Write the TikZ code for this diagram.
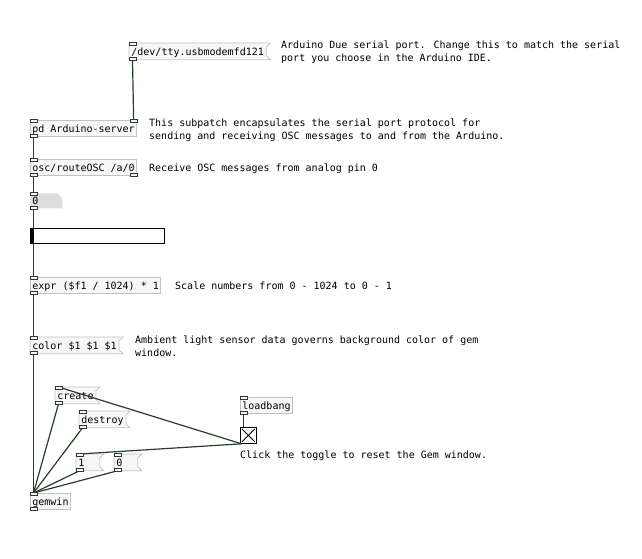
\documentclass[tikz,border=0pt]{standalone}
\usepackage{fontspec}
\usepackage{xcolor}
\usepackage{tikz}
\usetikzlibrary{calc}

\newfontfamily\pdmono{DejaVu Sans Mono}
\definecolor{boxfill}{HTML}{F7F7F7}
\definecolor{boxline}{HTML}{C2C2C2}
\definecolor{numfill}{HTML}{DDDDDD}
\definecolor{cordcol}{HTML}{263F26}

\tikzset{
  pdobj/.style={anchor=north west,fill=boxfill,draw=boxline,line width=0.8pt,
    inner xsep=2pt,inner ysep=0pt,minimum height=16pt,text height=9pt,text depth=1pt,
    font=\pdmono\fontsize{10}{13}\selectfont},
  pdmsg/.style={pdobj,draw=none},
  flag/.style={draw=boxline,line width=0.8pt},
  pdnum/.style={pdobj,draw=none,fill=none,minimum height=15pt,text width=28pt,align=left},
  slider/.style={anchor=north west,draw=black,fill=white,line width=0.8pt,
    minimum width=134pt,minimum height=15pt,inner sep=0pt},
  tglbox/.style={anchor=north west,draw=black,fill=white,line width=0.8pt,
    minimum size=16pt,inner sep=0pt},
  pdnote/.style={anchor=north west,inner sep=0pt,align=left,
    font=\pdmono\fontsize{10}{13}\selectfont},
  cord/.style={draw=cordcol,line width=1.2pt},
  iolet/.style={draw=cordcol,fill=boxfill,line width=0.7pt},
}

\begin{document}
\begin{tikzpicture}[x=1pt,y=-1pt]
  \fill[white] (0,0) rectangle (642,559);
  \useasboundingbox (0,0) rectangle (642,559);

  \node[pdmsg] (dev) at (129,43) {/dev/tty.usbmodemfd121};
  \node[pdobj] (pd) at (30,120) {pd Arduino-server};
  \node[pdobj] (osc) at (30,159) {osc/routeOSC /a/0};
  \node[pdnum,path picture={%
    \fill[numfill] (path picture bounding box.south west) -- (path picture bounding box.north west)
      -- ([xshift=-5pt]path picture bounding box.north east) -- ([yshift=-5pt]path picture bounding box.north east)
      -- (path picture bounding box.south east) -- cycle;}] (num) at (30,193) {0};
  \node[slider] (sld) at (30,228) {};
  \node[pdobj] (expr) at (30,277) {expr (\$f1 / 1024) * 1};
  \node[pdmsg] (color) at (30,337) {color \$1 \$1 \$1};
  \node[pdmsg] (create) at (55,387) {create};
  \node[pdmsg] (destroy) at (79,411) {destroy};
  \node[pdmsg,text width=19pt,align=left] (one) at (76,454) {1};
  \node[pdmsg,text width=19pt,align=left] (zero) at (114,454) {0};
  \node[pdobj] (gemwin) at (30,493) {gemwin};
  \node[pdobj] (loadbang) at (240,397) {loadbang};
  \node[tglbox] (tgl) at (240,427) {};

  \foreach \m in {dev,color,create,destroy,one,zero}
    \draw[flag] (\m.north west) -- ([xshift=4pt]\m.north east) -- ([yshift=-4pt]\m.north east) %
      -- ([yshift=4pt]\m.south east) -- ([xshift=4pt]\m.south east) -- (\m.south west) -- cycle;

  \fill ([xshift=1pt]sld.south west) rectangle ([xshift=4pt]sld.north west);
  \draw[line width=0.8pt] ([shift={(2pt,-2pt)}]tgl.north west) -- ([shift={(-2pt,2pt)}]tgl.south east)
    ([shift={(-2pt,-2pt)}]tgl.north east) -- ([shift={(2pt,2pt)}]tgl.south west);

  \draw[cord] ([xshift=3.5pt]dev.south west) -- ([xshift=-3.5pt]pd.north east);
  \foreach \a/\b in {pd/osc,osc/num,num/sld,sld/expr,expr/color,color/gemwin,create/gemwin,%
      destroy/gemwin,one/gemwin,zero/gemwin,loadbang/tgl}
    \draw[cord] ([xshift=3.5pt]\a.south west) -- ([xshift=3.5pt]\b.north west);
  \draw[cord] ([xshift=1.5pt]tgl.south west) -- ([xshift=3.5pt]create.north west);
  \draw[cord] ([xshift=1.5pt]tgl.south west) -- ([xshift=3.5pt]one.north west);

  \foreach \n in {dev,pd,osc,num,expr,color,create,destroy,one,zero,gemwin,loadbang}{
    \draw[iolet] ([yshift=1pt]\n.north west) rectangle ++(7pt,-3pt);
    \draw[iolet] ([yshift=-1pt]\n.south west) rectangle ++(7pt,3pt);
  }
  \draw[iolet] ([yshift=1pt]pd.north east) rectangle ++(-7pt,-3pt);
  \draw[iolet] ([yshift=-1pt]osc.south east) rectangle ++(-7pt,3pt);

  \node[pdnote] (devnote) at (281,40.4) {Arduino Due serial port. Change this to match the serial\\port you choose in the Arduino IDE.};
  \node[pdnote] (pdnote) at (149,118.4) {This subpatch encapsulates the serial port protocol for\\sending and receiving OSC messages to and from the Arduino.};
  \node[pdnote] (oscnote) at (149,163.4) {Receive OSC messages from analog pin 0};
  \node[pdnote] (exprnote) at (175,281.4) {Scale numbers from 0 - 1024 to 0 - 1};
  \node[pdnote] (colornote) at (135,335.4) {Ambient light sensor data governs background color of gem\\window.};
  \node[pdnote] (tglnote) at (240,450.4) {Click the toggle to reset the Gem window.};
\end{tikzpicture}
\end{document}
